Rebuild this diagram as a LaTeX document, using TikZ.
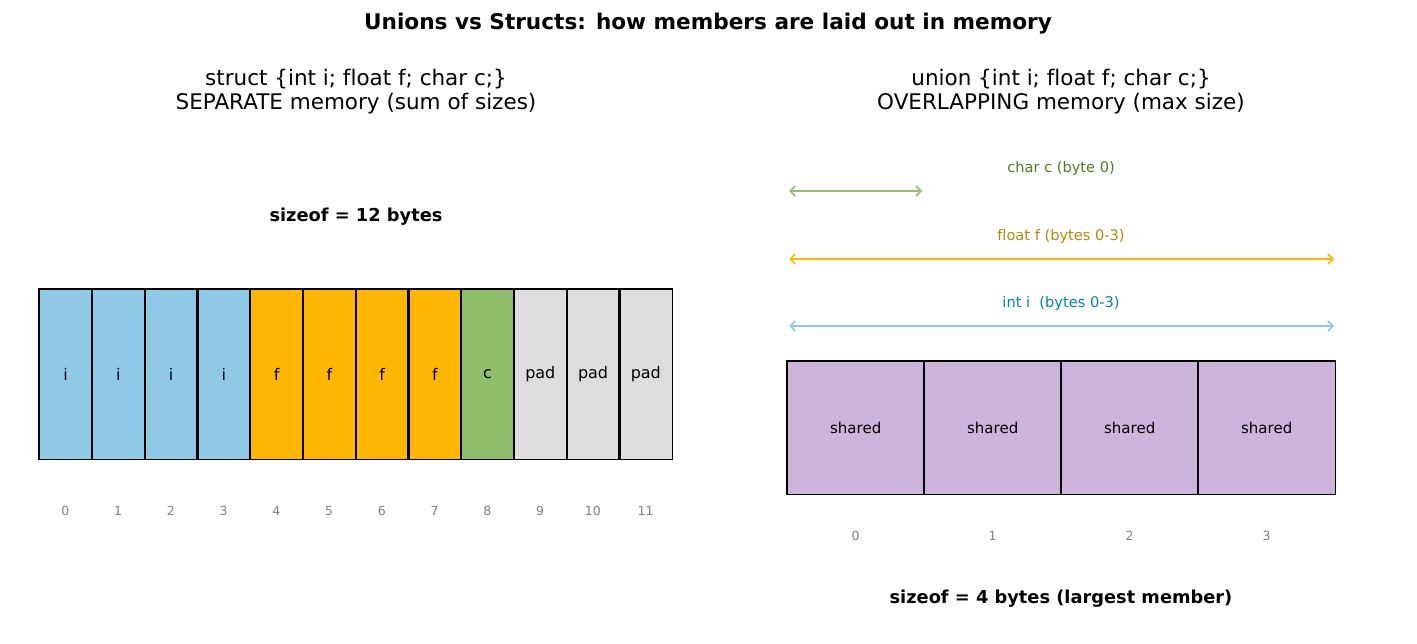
\documentclass[tikz,border=0pt]{standalone}
\usepackage{fontspec}
\setmainfont{DejaVu Sans}[Ligatures={NoCommon}]
\usetikzlibrary{arrows.meta}
\definecolor{cblue}{RGB}{142,202,230}
\definecolor{corange}{RGB}{255,183,3}
\definecolor{cgreen}{RGB}{144,190,109}
\definecolor{cgray}{RGB}{221,221,221}
\definecolor{cpurple}{RGB}{205,180,219}
\definecolor{tgreen}{RGB}{79,122,40}
\definecolor{tyellow}{RGB}{184,134,11}
\definecolor{tblue}{RGB}{2,128,180}
\definecolor{idx}{RGB}{128,128,128}
\tikzset{
  cell/.style={minimum width=52.75pt, minimum height=170pt, inner sep=0pt, anchor=north west, font=\fontsize{16}{18}\selectfont},
  ucell/.style={minimum width=137pt, minimum height=133pt, inner sep=0pt, anchor=north west, font=\fontsize{15}{17}\selectfont},
  border/.style={draw=black, line width=1.7pt},
  idxlab/.style={text=idx, font=\fontsize{12.5}{14}\selectfont, inner sep=0pt},
  sub/.style={font=\fontsize{21.5}{24}\selectfont, align=center, inner sep=0pt},
  boldlab/.style={font=\bfseries\fontsize{17.8}{20}\selectfont, inner sep=0pt},
  arlab/.style={font=\fontsize{14.6}{17}\selectfont, inner sep=0pt},
  span/.style={line width=1.6pt, {Straight Barb[length=5pt,width=10pt]}-{Straight Barb[length=5pt,width=10pt]}}
}
\begin{document}
\begin{tikzpicture}[x=1pt,y=-1pt]
\useasboundingbox (0,0) rectangle (1417,643);
\node[font=\bfseries\fontsize{21.6}{25}\selectfont, inner sep=0pt] (title) at (708,23.5) {Unions vs Structs: how members are laid out in memory};
% left
\node[sub] (lsub) at (356,92) {struct \{int i; float f; char c;\}\\SEPARATE memory (sum of sizes)};
\node[boldlab] (lsize) at (356,217) {sizeof = 12 bytes};
\foreach \k/\lab/\col in {0/i/cblue,1/i/cblue,2/i/cblue,3/i/cblue,4/f/corange,5/f/corange,6/f/corange,7/f/corange,8/c/cgreen,9/pad/cgray,10/pad/cgray,11/pad/cgray}{
  \node[cell, fill=\col] (s\k) at ({39+52.75*\k},289) {\lab};
  \node[idxlab] (si\k) at ({39+52.75*\k+26.4},511) {\k};
}
\foreach \k in {0,...,11}{
  \draw[border] (s\k.north west) rectangle (s\k.south east);
}
% right
\node[sub] (rsub) at (1061,92) {union \{int i; float f; char c;\}\\OVERLAPPING memory (max size)};
\foreach \k in {0,1,2,3}{
  \node[ucell, fill=cpurple] (u\k) at ({787+137*\k},361) {shared};
  \node[idxlab] (ui\k) at ({787+137*\k+68.5},536) {\k};
}
\foreach \k in {0,1,2,3}{
  \draw[border] (u\k.north west) rectangle (u\k.south east);
}
\node[boldlab] (rsize) at (1061,599) {sizeof = 4 bytes (largest member)};
\coordinate (cA) at (789,191); \coordinate (cB) at (922,191);
\coordinate (fA) at (789,259); \coordinate (fB) at (1334,259);
\coordinate (iA) at (789,326); \coordinate (iB) at (1334,326);
\draw[span, cgreen] (cA) -- (cB);
\draw[span, corange] (fA) -- (fB);
\draw[span, cblue] (iA) -- (iB);
\node[arlab, text=tgreen] (clab) at (1061,168) {char c (byte 0)};
\node[arlab, text=tyellow] (flab) at (1061,236) {float f (bytes 0-3)};
\node[arlab, text=tblue] (ilab) at (1061,303) {int i\ \ (bytes 0-3)};
\end{tikzpicture}
\end{document}
